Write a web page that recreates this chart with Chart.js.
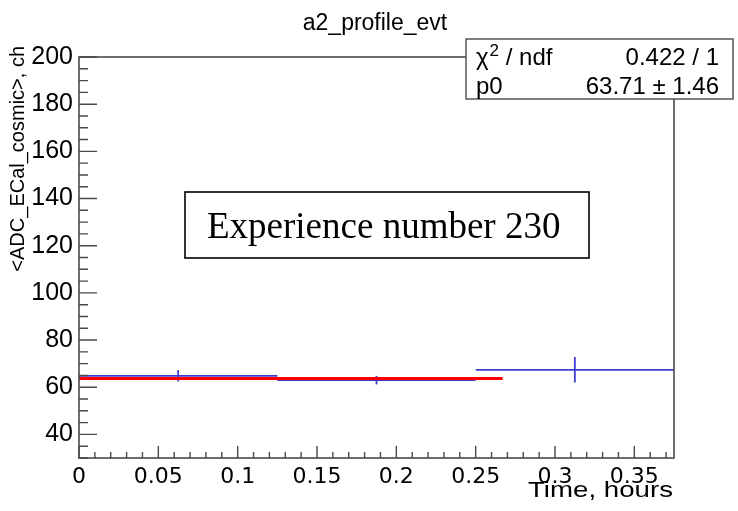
<!DOCTYPE html>
<html>
<head>
<meta charset="utf-8">
<script src="https://cdn.jsdelivr.net/npm/chart.js@4.4.1/dist/chart.umd.min.js"></script>
<style>
html,body{margin:0;padding:0;background:#fff;}
#wrap{width:738px;height:511px;position:relative;}
</style>
</head>
<body>
<div id="wrap"><canvas id="c" width="738" height="511"></canvas></div>
<script>
// ---- data ----
const binLow = [0, 0.125, 0.25];
const binHigh = [0.125, 0.25, 0.375];
const binCenters = [0.0625, 0.1875, 0.3125];
const binValues = [64.85, 63.0, 67.4];
const binErrors = [2.4, 1.8, 5.4];
const fitRange = [0, 0.267];
const fitValue = 63.71;
const xTickValues = [0, 0.05, 0.1, 0.15, 0.2, 0.25, 0.3, 0.35];
const xTickLabels = ['0', '0.05', '0.1', '0.15', '0.2', '0.25', '0.3', '0.35'];
const yTickValues = [40, 60, 80, 100, 120, 140, 160, 180, 200];
const yTickLabels = ['40', '60', '80', '100', '120', '140', '160', '180', '200'];
const titleText = 'a2_profile_evt';
const xTitle = 'Time, hours';
const yTitle = '<ADC_ECal_cosmic>, ch';
const statsRows = [['χ', '2', ' / ndf', '0.422 / 1'], ['p0', '', '', '63.71 ± 1.46']];
const boxText = 'Experience number 230';

const BLUE = '#3c3cd0';
const AX = '#4a4a4a';

const datasets = [];
for (let i = 0; i < binValues.length; i++) {
  datasets.push({
    data: [{x: binLow[i], y: binValues[i]}, {x: binHigh[i], y: binValues[i]}],
    borderColor: BLUE, borderWidth: 1.8, showLine: true, pointRadius: 0, order: 2
  });
  datasets.push({
    data: [{x: binCenters[i], y: binValues[i] - binErrors[i]}, {x: binCenters[i], y: binValues[i] + binErrors[i]}],
    borderColor: BLUE, borderWidth: 1.8, showLine: true, pointRadius: 0, order: 2
  });
}
datasets.push({
  data: [{x: fitRange[0], y: fitValue}, {x: fitRange[1], y: fitValue}],
  borderColor: '#ff0000', borderWidth: 2.8, showLine: true, pointRadius: 0, order: 1
});

const decor = {
  id: 'decor',
  afterDraw(chart) {
    const ctx = chart.ctx, a = chart.chartArea;
    const xs = chart.scales.x, ys = chart.scales.y;
    ctx.save();
    // frame
    ctx.strokeStyle = AX; ctx.lineWidth = 1.6;
    ctx.strokeRect(a.left, a.top, a.right - a.left, a.bottom - a.top);
    // y ticks (inside)
    ctx.lineWidth = 1.4;
    ctx.beginPath();
    for (let v = 30; v <= 200; v += 5) {
      const y = ys.getPixelForValue(v);
      const len = (v % 20 === 0) ? 18 : 9;
      ctx.moveTo(a.left, y); ctx.lineTo(a.left + len, y);
    }
    // x ticks
    for (let k = 0; k <= 37; k++) {
      const v = k * 0.01;
      const x = xs.getPixelForValue(v);
      const len = (k % 5 === 0) ? 12 : 6;
      ctx.moveTo(x, a.bottom); ctx.lineTo(x, a.bottom - len);
    }
    ctx.stroke();
    // title
    ctx.fillStyle = '#000';
    ctx.font = '23px "Liberation Sans", Arial, sans-serif';
    ctx.textAlign = 'center'; ctx.textBaseline = 'alphabetic';
    ctx.fillText(titleText, 375, 30);
    // y title
    ctx.save();
    ctx.translate(24, 46);
    ctx.rotate(-Math.PI / 2);
    ctx.font = '20px "Liberation Sans", Arial, sans-serif';
    ctx.textAlign = 'right';
    ctx.fillText(yTitle, 0, 0);
    ctx.restore();
    // x title (wide)
    ctx.save();
    ctx.font = '22px "Liberation Sans", Arial, sans-serif';
    const w = ctx.measureText(xTitle).width;
    ctx.translate(673, 497);
    ctx.scale(145 / w, 1);
    ctx.textAlign = 'right';
    ctx.fillText(xTitle, 0, 0);
    ctx.restore();
    // annotation box
    ctx.fillStyle = '#fff';
    ctx.fillRect(185, 192, 404, 66);
    ctx.strokeStyle = '#000'; ctx.lineWidth = 1.6;
    ctx.strokeRect(185, 192, 404, 66);
    ctx.fillStyle = '#000';
    ctx.font = '37px "Liberation Serif", "Times New Roman", serif';
    ctx.textAlign = 'left';
    ctx.fillText(boxText, 207, 238);
    // stats box
    ctx.fillStyle = '#fff';
    ctx.fillRect(466, 39, 267, 60);
    ctx.strokeStyle = AX; ctx.lineWidth = 1.4;
    ctx.strokeRect(466, 39, 267, 60);
    ctx.fillStyle = '#000';
    const baselines = [65, 94];
    statsRows.forEach((r, i) => {
      const b = baselines[i];
      ctx.textAlign = 'left';
      ctx.font = '24px "Liberation Sans", Arial, sans-serif';
      let x = 476;
      ctx.fillText(r[0], x, b); x += ctx.measureText(r[0]).width + 1;
      if (r[1]) {
        ctx.font = '17px "Liberation Sans", Arial, sans-serif';
        ctx.fillText(r[1], x, b - 9); x += ctx.measureText(r[1]).width;
        ctx.font = '24px "Liberation Sans", Arial, sans-serif';
      }
      if (r[2]) ctx.fillText(r[2], x, b);
      ctx.textAlign = 'right';
      ctx.fillText(r[3], 719, b);
    });
    ctx.restore();
  }
};

new Chart(document.getElementById('c'), {
  type: 'scatter',
  data: { datasets },
  options: {
    responsive: false,
    animation: false,
    devicePixelRatio: 1,
    layout: { padding: { left: 0, top: 57, right: 64, bottom: 0 } },
    plugins: { legend: { display: false }, tooltip: { enabled: false }, title: { display: false } },
    scales: {
      x: {
        type: 'linear', min: 0, max: 0.375,
        grid: { display: false, drawTicks: false },
        border: { display: false },
        afterBuildTicks: s => { s.ticks = xTickValues.map(v => ({ value: v })); },
        afterFit: s => { s.height = 53; },
        ticks: {
          autoSkip: false, maxRotation: 0, padding: 6, color: '#000',
          font: { family: 'DejaVu Sans', size: 22 },
          callback: (v, i) => xTickLabels[i]
        }
      },
      y: {
        type: 'linear', min: 30, max: 200,
        grid: { display: false, drawTicks: false },
        border: { display: false },
        afterBuildTicks: s => { s.ticks = yTickValues.map(v => ({ value: v })); },
        afterFit: s => { s.width = 79; },
        ticks: {
          autoSkip: false, padding: 6, color: '#000',
          font: { family: '"Liberation Sans", Arial, sans-serif', size: 25 },
          callback: (v, i) => yTickLabels[i]
        }
      }
    }
  },
  plugins: [decor]
});
</script>
</body>
</html>
